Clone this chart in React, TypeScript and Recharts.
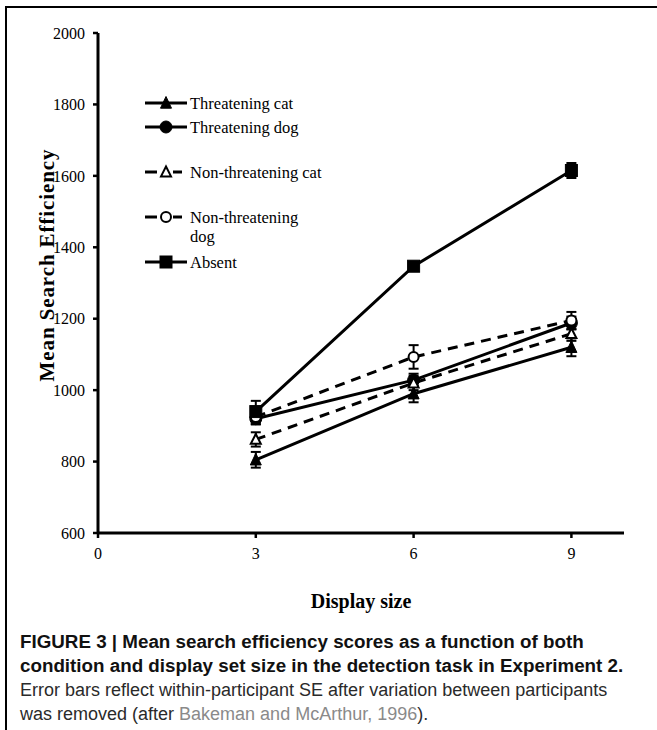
import React from 'react';
import { LineChart, Line, XAxis, YAxis, ErrorBar, Legend } from 'recharts';

// ---- data ----
const displaySizes = [3, 6, 9];
const threateningCat = [805, 990, 1120];
const threateningCatErr = [22, 24, 25];
const threateningDog = [920, 1028, 1188];
const threateningDogErr = [16, 18, 18];
const nonThreateningCat = [862, 1020, 1158];
const nonThreateningCatErr = [20, 20, 20];
const nonThreateningDog = [925, 1093, 1195];
const nonThreateningDogErr = [20, 33, 24];
const absent = [940, 1347, 1615];
const absentErr = [30, 8, 21];
const seriesNames = ['Threatening cat', 'Threatening dog', 'Non-threatening cat', 'Non-threatening dog', 'Absent'];
const xTicks = [0, 3, 6, 9];
const yTicks = [600, 800, 1000, 1200, 1400, 1600, 1800, 2000];

const chartData = displaySizes.map((size, i) => ({
  size,
  tc: threateningCat[i],
  tcErr: threateningCatErr[i],
  td: threateningDog[i],
  tdErr: threateningDogErr[i],
  ntc: nonThreateningCat[i],
  ntcErr: nonThreateningCatErr[i],
  ntd: nonThreateningDog[i],
  ntdErr: nonThreateningDogErr[i],
  ab: absent[i],
  abErr: absentErr[i],
}));

// ---- styles ----
const series = [
  { key: 'tc', name: seriesNames[0], shape: 'triangle', filled: true, dashed: false },
  { key: 'td', name: seriesNames[1], shape: 'circle', filled: true, dashed: false },
  { key: 'ntc', name: seriesNames[2], shape: 'triangle', filled: false, dashed: true },
  { key: 'ntd', name: seriesNames[3], shape: 'circle', filled: false, dashed: true },
  { key: 'ab', name: seriesNames[4], shape: 'square', filled: true, dashed: false },
];
const legendCenters = [103, 127, 172, 217, 262];
const legendTop = 90;

const SERIF = '"Liberation Serif", "Times New Roman", serif';
const SANS = '"Liberation Sans", Arial, sans-serif';

function Marker({ cx, cy, shape, filled }: any) {
  const fill = filled ? '#000' : '#fff';
  const sw = filled ? 1 : 2;
  if (shape === 'triangle') {
    const h = filled ? 6.5 : 5.5;
    const w = filled ? 5.5 : 5;
    return (
      <path
        d={`M${cx},${cy - h} L${cx + w},${cy + h * 0.8} L${cx - w},${cy + h * 0.8} Z`}
        fill={fill}
        stroke="#000"
        strokeWidth={sw}
        strokeLinejoin="miter"
      />
    );
  }
  if (shape === 'circle') {
    return <circle cx={cx} cy={cy} r={filled ? 6 : 5} fill={fill} stroke="#000" strokeWidth={sw} />;
  }
  return <rect x={cx - 6} y={cy - 6} width={12} height={12} fill={fill} stroke="#000" strokeWidth={sw} />;
}

const makeDot = (shape: string, filled: boolean) => (props: any) => {
  const { cx, cy, index } = props;
  if (cx == null || cy == null) return <g key={index} />;
  return (
    <g key={`${shape}-${index}`}>
      <Marker cx={cx} cy={cy} shape={shape} filled={filled} />
    </g>
  );
};

function LegendContent() {
  return (
    <div style={{ position: 'relative', fontFamily: SERIF, fontSize: 16.5, color: '#000', lineHeight: '19px' }}>
      {series.map((s, i) => (
        <div
          key={s.key}
          style={{
            position: 'absolute',
            left: 0,
            top: legendCenters[i] - legendTop - 9,
            display: 'flex',
            alignItems: 'flex-start',
            whiteSpace: 'nowrap',
          }}
        >
          <svg width={46} height={18} style={{ display: 'block', flex: 'none' }}>
            {s.dashed ? (
              <g>
                <line x1={1} y1={9} x2={13} y2={9} stroke="#000" strokeWidth={3} />
                <line x1={29} y1={9} x2={38} y2={9} stroke="#000" strokeWidth={3} />
              </g>
            ) : (
              <line x1={1} y1={9} x2={43} y2={9} stroke="#000" strokeWidth={3} />
            )}
            <Marker cx={22} cy={9} shape={s.shape} filled={s.filled} />
          </svg>
          <span style={{ whiteSpace: s.key === 'ntd' ? 'normal' : 'nowrap', width: s.key === 'ntd' ? 120 : undefined }}>
            {s.name}
          </span>
        </div>
      ))}
    </div>
  );
}

function YLabel(props: any) {
  const vb = props.viewBox || { x: 0, y: 33, width: 98, height: 500 };
  const cx = 47;
  const cy = vb.y + vb.height / 2 - 18;
  return (
    <text
      x={cx}
      y={cy}
      transform={`rotate(-90, ${cx}, ${cy})`}
      textAnchor="middle"
      dominantBaseline="central"
      fill="#000"
      fontFamily={SERIF}
      fontSize={21}
      fontWeight="bold"
      letterSpacing={0.9}
    >
      Mean Search Efficiency
    </text>
  );
}

export default function App() {
  return (
    <div style={{ position: 'fixed', left: 0, top: 0, width: 657, height: 730, background: '#fff', overflow: 'hidden' }}>
      <div
        style={{
          position: 'absolute',
          left: 5,
          top: 6,
          width: 660,
          height: 730,
          borderLeft: '2px solid #000',
          borderTop: '2px solid #000',
        }}
      />
      <div style={{ position: 'absolute', left: 0, top: 0 }}>
        <LineChart width={657} height={620} data={chartData} margin={{ top: 33, right: 33, left: 0, bottom: 0 }}>
          <XAxis
            dataKey="size"
            type="number"
            domain={[0, 10]}
            ticks={xTicks}
            height={87}
            axisLine={{ stroke: '#000', strokeWidth: 3 }}
            tickLine={{ stroke: '#000', strokeWidth: 2.5 }}
            tickSize={5}
            tickMargin={10}
            tick={{ fill: '#000', fontFamily: SERIF, fontSize: 16 }}
            label={{
              value: 'Display size',
              position: 'insideBottom',
              offset: 12,
              fill: '#000',
              fontFamily: SERIF,
              fontSize: 20,
              fontWeight: 'bold',
            }}
          />
          <YAxis
            type="number"
            domain={[600, 2000]}
            ticks={yTicks}
            width={98}
            allowDataOverflow
            axisLine={{ stroke: '#000', strokeWidth: 3 }}
            tickLine={{ stroke: '#000', strokeWidth: 2.5 }}
            tickSize={5}
            tickMargin={8}
            tick={{ fill: '#000', fontFamily: SERIF, fontSize: 16 }}
            label={<YLabel />}
          />
          <Legend
            layout="vertical"
            align="center"
            verticalAlign="middle"
            content={<LegendContent />}
            wrapperStyle={{ left: 144, top: legendTop, width: 260, height: 200 }}
          />
          {series.map((s) => (
            <Line
              key={s.key}
              dataKey={s.key}
              name={s.name}
              type="linear"
              stroke="#000"
              strokeWidth={3}
              strokeDasharray={s.dashed ? '10 7' : undefined}
              dot={makeDot(s.shape, s.filled)}
              activeDot={false}
              isAnimationActive={false}
            >
              <ErrorBar dataKey={`${s.key}Err`} width={5} strokeWidth={2} stroke="#000" direction="y" />
            </Line>
          ))}
        </LineChart>
      </div>
      <div
        style={{
          position: 'absolute',
          left: 20,
          top: 630,
          width: 640,
          fontFamily: SANS,
          fontSize: 18,
          lineHeight: '24px',
          color: '#2a2a2a',
          whiteSpace: 'nowrap',
        }}
      >
        <div style={{ fontWeight: 'bold', color: '#111', fontSize: 18.8 }}>
          FIGURE 3 | Mean search efficiency scores as a function of both
          <br />
          condition and display set size in the detection task in Experiment 2.
        </div>
        <div>
          Error bars reflect within-participant SE after variation between participants
          <br />
          was removed (after <span style={{ color: '#8a8a8a' }}>Bakeman and McArthur, 1996</span>).
        </div>
      </div>
    </div>
  );
}
